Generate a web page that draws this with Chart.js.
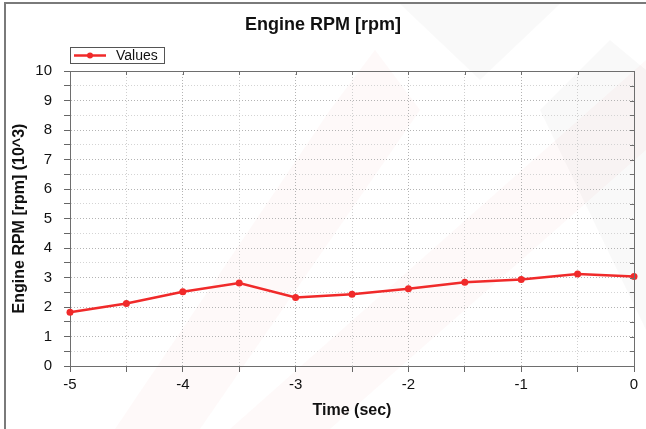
<!DOCTYPE html>
<html>
<head>
<meta charset="utf-8">
<script src="https://cdn.jsdelivr.net/npm/chart.js@4/dist/chart.umd.min.js"></script>
<style>
  html, body { margin: 0; padding: 0; background: #ffffff; }
  #wrap { width: 646px; height: 429px; position: relative; }
</style>
</head>
<body>
<div id="wrap"><canvas id="c" width="646" height="429"></canvas></div>
<script>
// ---- data ----
const chartTitle = 'Engine RPM [rpm]';
const seriesLabel = 'Values';
const xAxisTitle = 'Time (sec)';
const yAxisTitle = 'Engine RPM [rpm] (10^3)';
const timeSec = [-5, -4.5, -4, -3.5, -3, -2.5, -2, -1.5, -1, -0.5, 0];
const rpmK = [1.82, 2.12, 2.52, 2.81, 2.32, 2.43, 2.62, 2.84, 2.93, 3.12, 3.03];
const xMin = -5, xMax = 0, xStep = 0.5;
const yMin = 0, yMax = 10, yStep = 0.5;

const lineColor = '#f02a2a';
const FONT = '"Liberation Sans", Arial, sans-serif';

const isInt = v => Math.abs(v - Math.round(v)) < 1e-6;

// background watermark + frame + plot box + legend
const decor = {
  id: 'decor',
  beforeDraw(chart) {
    const ctx = chart.ctx;
    ctx.save();
    // faint watermark shapes
    ctx.fillStyle = 'rgba(235,70,50,0.03)';
    ctx.beginPath();
    ctx.moveTo(115, 429); ctx.lineTo(200, 429); ctx.lineTo(420, 110); ctx.lineTo(330, 110);
    ctx.closePath(); ctx.fill();
    ctx.beginPath();
    ctx.moveTo(330, 110); ctx.lineTo(420, 110); ctx.lineTo(375, 50);
    ctx.closePath(); ctx.fill();
    ctx.beginPath();
    ctx.moveTo(230, 429); ctx.lineTo(330, 429); ctx.lineTo(646, 150); ctx.lineTo(646, 60);
    ctx.closePath(); ctx.fill();
    ctx.fillStyle = 'rgba(0,0,0,0.022)';
    ctx.beginPath();
    ctx.moveTo(400, 4); ctx.lineTo(560, 4); ctx.lineTo(480, 80);
    ctx.closePath(); ctx.fill();
    ctx.beginPath();
    ctx.moveTo(540, 110); ctx.lineTo(610, 40); ctx.lineTo(646, 70); ctx.lineTo(646, 330);
    ctx.closePath(); ctx.fill();
    ctx.restore();
  },
  afterDraw(chart) {
    const ctx = chart.ctx;
    const a = chart.chartArea;
    ctx.save();
    // outer frame (top + left)
    ctx.strokeStyle = '#7a7a7a';
    ctx.lineWidth = 2;
    ctx.beginPath();
    ctx.moveTo(5, 429); ctx.lineTo(5, 3); ctx.lineTo(646, 3);
    ctx.stroke();
    // plot box top + right
    ctx.strokeStyle = '#6e6e6e';
    ctx.lineWidth = 1;
    ctx.beginPath();
    ctx.moveTo(a.left, a.top + 0.5); ctx.lineTo(a.right + 0.5, a.top + 0.5); ctx.lineTo(a.right + 0.5, a.bottom);
    ctx.stroke();
    // inner ticks on right and top borders
    const ys = chart.scales.y, xs = chart.scales.x;
    ctx.beginPath();
    ys.ticks.forEach(t => {
      const py = Math.round(ys.getPixelForValue(t.value)) + 0.5;
      ctx.moveTo(a.right, py); ctx.lineTo(a.right - 4, py);
    });
    xs.ticks.forEach(t => {
      const px = Math.round(xs.getPixelForValue(t.value)) + 0.5;
      ctx.moveTo(px, a.top); ctx.lineTo(px, a.top + 4);
    });
    ctx.stroke();
    // legend box
    const ds = chart.data.datasets[0];
    const lx = a.left, ly = a.top - 24, lw = 94, lh = 16;
    ctx.fillStyle = '#ffffff';
    ctx.fillRect(lx, ly, lw, lh);
    ctx.strokeStyle = '#555';
    ctx.lineWidth = 1;
    ctx.strokeRect(lx + 0.5, ly + 0.5, lw, lh);
    ctx.strokeStyle = ds.borderColor;
    ctx.lineWidth = 2.5;
    ctx.beginPath();
    ctx.moveTo(lx + 4, ly + lh / 2 + 0.5); ctx.lineTo(lx + 36, ly + lh / 2 + 0.5);
    ctx.stroke();
    ctx.fillStyle = ds.borderColor;
    ctx.beginPath();
    ctx.arc(lx + 20, ly + lh / 2 + 0.5, 3, 0, Math.PI * 2);
    ctx.fill();
    ctx.fillStyle = '#111';
    ctx.font = '14px ' + FONT;
    ctx.textBaseline = 'middle';
    ctx.fillText(ds.label, lx + 46, ly + lh / 2 + 1);
    ctx.restore();
  }
};

new Chart(document.getElementById('c'), {
  type: 'line',
  data: {
    datasets: [{
      label: seriesLabel,
      data: timeSec.map((t, i) => ({ x: t, y: rpmK[i] })),
      borderColor: lineColor,
      backgroundColor: lineColor,
      borderWidth: 2.5,
      pointRadius: 3.5,
      pointHoverRadius: 3.5,
      pointBorderWidth: 0,
      tension: 0,
      clip: false
    }]
  },
  options: {
    responsive: false,
    animation: false,
    devicePixelRatio: 1,
    layout: { padding: { left: 12, right: 12, top: 0, bottom: 0 } },
    plugins: {
      legend: { display: false },
      tooltip: { enabled: false },
      title: {
        display: true,
        text: chartTitle,
        color: '#111',
        font: { family: FONT, size: 18, weight: 'bold', lineHeight: 1.2 },
        padding: { top: 14, bottom: 35.4 }
      }
    },
    scales: {
      x: {
        type: 'linear',
        min: xMin, max: xMax,
        afterFit: s => { s.height = 63; },
        afterBuildTicks: s => {
          const t = [];
          for (let v = xMin; v <= xMax + 1e-9; v += xStep) t.push({ value: +v.toFixed(2) });
          s.ticks = t;
        },
        ticks: {
          autoSkip: false, maxRotation: 0,
          color: '#111', padding: 4,
          font: { family: FONT, size: 15 },
          callback: v => isInt(v) ? String(Math.round(v)) : ''
        },
        grid: {
          color: c => (c.tick && isInt(c.tick.value)) ? '#b4b4b4' : '#cfcfcf',
          lineWidth: 1,
          tickLength: 6,
          tickColor: '#666',
          tickWidth: 1
        },
        border: { display: true, color: '#6e6e6e', width: 1, dash: [1, 2] },
        title: {
          display: true, text: xAxisTitle, color: '#111',
          font: { family: FONT, size: 16, weight: 'bold', lineHeight: 1.2 },
          padding: { top: 0, bottom: 9 }
        }
      },
      y: {
        type: 'linear',
        min: yMin, max: yMax,
        afterFit: s => { s.width = 58; },
        afterBuildTicks: s => {
          const t = [];
          for (let v = yMin; v <= yMax + 1e-9; v += yStep) t.push({ value: +v.toFixed(2) });
          s.ticks = t;
        },
        ticks: {
          autoSkip: false,
          color: '#111', padding: 12,
          font: { family: FONT, size: 15 },
          callback: v => isInt(v) ? String(Math.round(v)) : ''
        },
        grid: {
          color: c => (c.tick && isInt(c.tick.value)) ? '#b4b4b4' : '#d4d4d4',
          lineWidth: 1,
          tickLength: 6,
          tickColor: '#666',
          tickWidth: 1
        },
        border: { display: true, color: '#6e6e6e', width: 1, dash: [1, 2] },
        title: {
          display: true, text: yAxisTitle, color: '#111',
          font: { family: FONT, size: 16, weight: 'bold', lineHeight: 1.2 },
          padding: { top: -2, bottom: 0 }
        }
      }
    }
  },
  plugins: [decor]
});
</script>
</body>
</html>
